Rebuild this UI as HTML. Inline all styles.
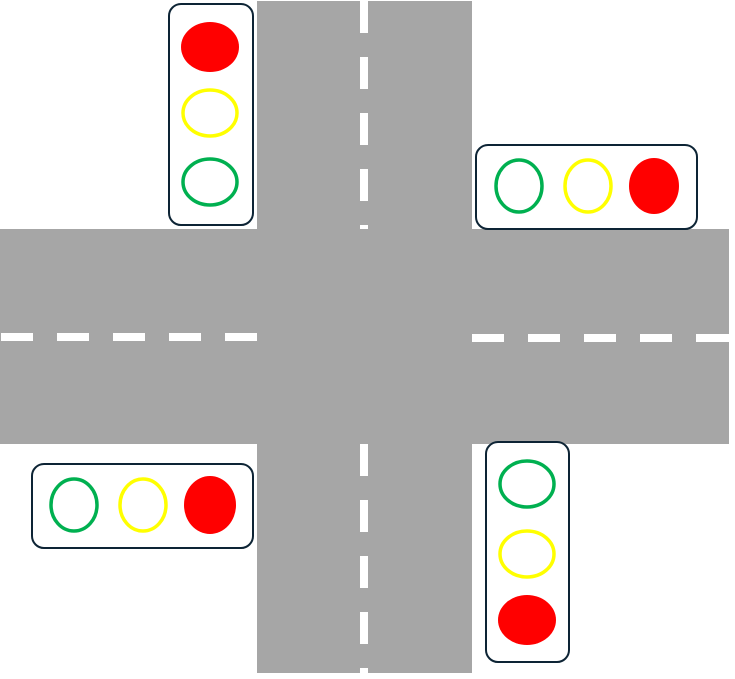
<!DOCTYPE html>
<html><head><style>html,body{margin:0;padding:0;background:#fff;width:735px;height:679px;overflow:hidden}</style></head>
<body>
<svg width="735" height="679" viewBox="0 0 735 679" xmlns="http://www.w3.org/2000/svg">
<rect x="257" y="1" width="215" height="672" fill="#a6a6a6"/>
<rect x="0" y="229" width="729" height="215" fill="#a6a6a6"/>
<g fill="#fff">
<rect x="360" y="0" width="8" height="33"/>
<rect x="360" y="57" width="8" height="32"/>
<rect x="360" y="113" width="8" height="32"/>
<rect x="360" y="169" width="8" height="32"/>
<rect x="360" y="225" width="8" height="4"/>
<rect x="360" y="444" width="8" height="32"/>
<rect x="360" y="500" width="8" height="32"/>
<rect x="360" y="556" width="8" height="32"/>
<rect x="360" y="612" width="8" height="32"/>
<rect x="360" y="668" width="8" height="5"/>
<rect x="1" y="333" width="32" height="8"/>
<rect x="57" y="333" width="32" height="8"/>
<rect x="113" y="333" width="32" height="8"/>
<rect x="169" y="333" width="32" height="8"/>
<rect x="225" y="333" width="32" height="8"/>
<rect x="472" y="334" width="32" height="8"/>
<rect x="528" y="334" width="32" height="8"/>
<rect x="584" y="334" width="32" height="8"/>
<rect x="640" y="334" width="32" height="8"/>
<rect x="696" y="334" width="33" height="8"/>
</g>
<g stroke="#0d2435" stroke-width="2" fill="#fff">
<rect x="169" y="4" width="84" height="221" rx="12"/>
<rect x="476" y="145" width="221" height="84" rx="12"/>
<rect x="32" y="464" width="221" height="84" rx="12"/>
<rect x="486" y="442" width="83" height="220" rx="12"/>
</g>
<g stroke-width="3.5">
<ellipse cx="210" cy="47" rx="29" ry="25" fill="#ff0000" stroke="none"/>
<ellipse cx="210" cy="113" rx="27" ry="23" fill="none" stroke="#ffff00"/>
<ellipse cx="210" cy="182" rx="27" ry="23" fill="none" stroke="#00b050"/>
<ellipse cx="519" cy="186" rx="23" ry="26" fill="none" stroke="#00b050"/>
<ellipse cx="588" cy="186" rx="23" ry="26" fill="none" stroke="#ffff00"/>
<ellipse cx="654" cy="186" rx="25" ry="28" fill="#ff0000" stroke="none"/>
<ellipse cx="74" cy="505" rx="23" ry="26" fill="none" stroke="#00b050"/>
<ellipse cx="143" cy="505" rx="23" ry="26" fill="none" stroke="#ffff00"/>
<ellipse cx="210" cy="505" rx="26" ry="29" fill="#ff0000" stroke="none"/>
<ellipse cx="527" cy="484" rx="27" ry="23" fill="none" stroke="#00b050"/>
<ellipse cx="527" cy="554" rx="27" ry="23" fill="none" stroke="#ffff00"/>
<ellipse cx="527" cy="620" rx="29" ry="25" fill="#ff0000" stroke="none"/>
</g>
</svg>
</body></html>
